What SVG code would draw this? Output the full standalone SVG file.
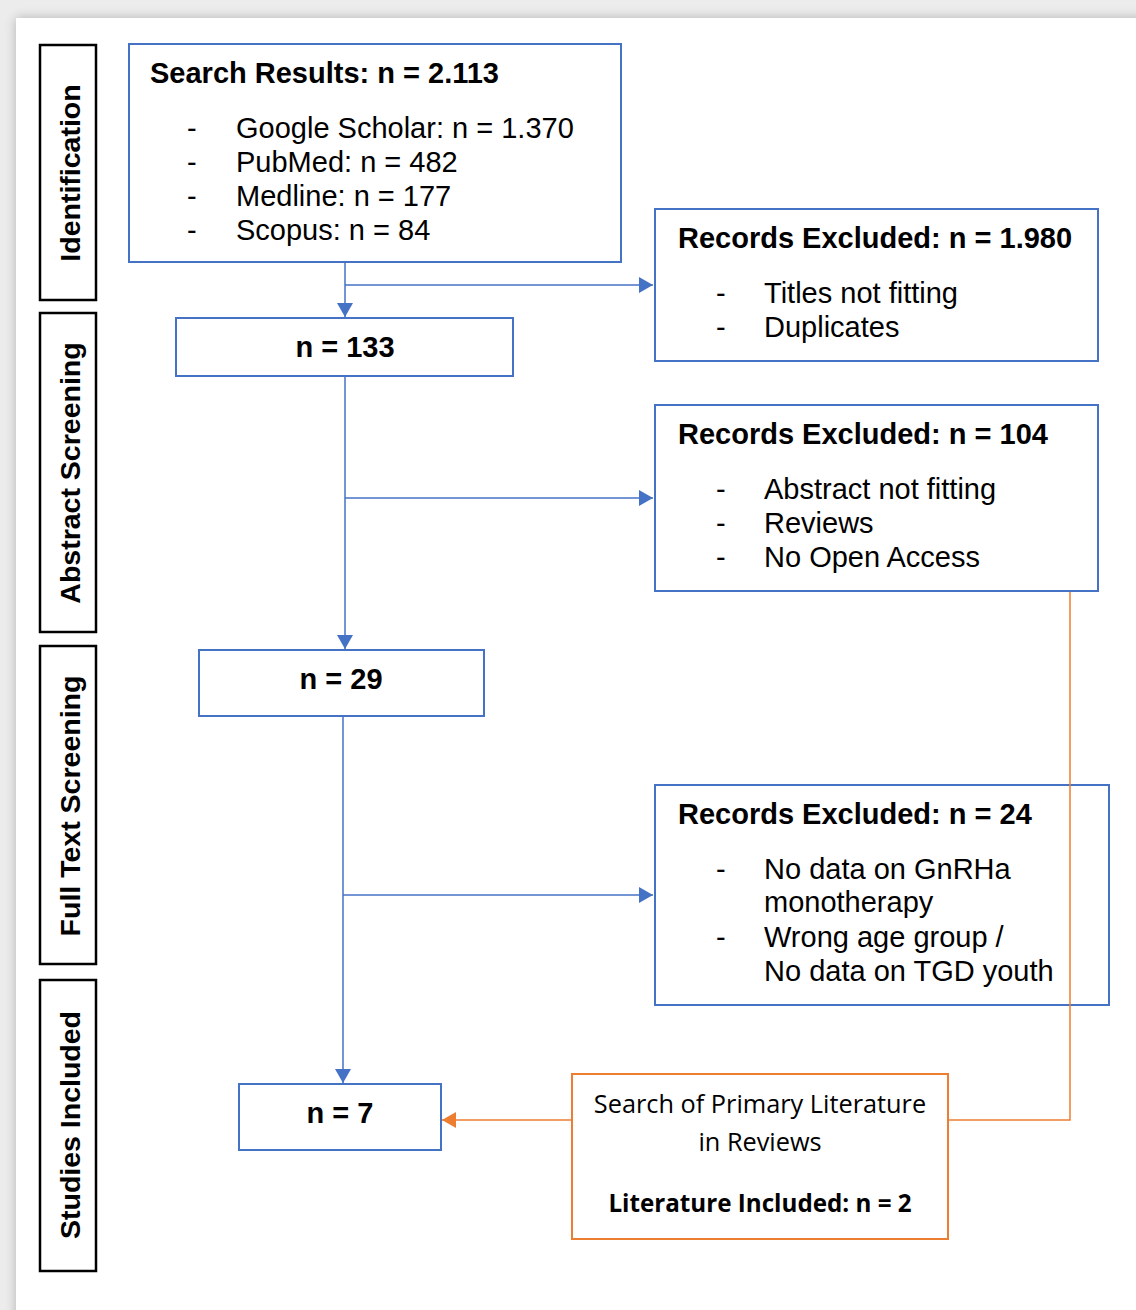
<svg xmlns="http://www.w3.org/2000/svg" width="1136" height="1310" viewBox="0 0 1136 1310">
<defs>
<filter id="sh" x="-5%" y="-5%" width="110%" height="110%">
<feGaussianBlur in="SourceAlpha" stdDeviation="6"/>
<feComponentTransfer><feFuncA type="linear" slope="0.25"/></feComponentTransfer>
<feMerge><feMergeNode/><feMergeNode in="SourceGraphic"/></feMerge>
</filter>
<marker id="ab" viewBox="0 0 14 16" refX="14" refY="8" markerWidth="14" markerHeight="16" markerUnits="userSpaceOnUse" orient="auto">
<path d="M0,0 L14,8 L0,16 z" fill="#4472c4"/>
</marker>
<marker id="ao" viewBox="0 0 14 16" refX="14" refY="8" markerWidth="14" markerHeight="16" markerUnits="userSpaceOnUse" orient="auto">
<path d="M0,0 L14,8 L0,16 z" fill="#ed7d31"/>
</marker>
</defs>
<style>
.stage{fill:#fff;stroke:#000;stroke-width:2.5}
.stxt{font-family:"Liberation Sans",Arial,sans-serif;font-weight:bold;font-size:28.5px;fill:#000;text-anchor:middle}
.box{fill:#fff;stroke:#4472c4;stroke-width:2}
.obox{fill:#fff;stroke:#ed7d31;stroke-width:2}
.t{font-family:"Liberation Sans",Arial,sans-serif;font-size:29px;fill:#000}
.b{font-weight:bold}
.c{font-family:"Open Sans","Liberation Sans",sans-serif;font-size:25.3px;fill:#000;text-anchor:middle}
.cb{font-size:24.2px;font-weight:bold}
.con{fill:none;stroke:#4472c4;stroke-width:1.5}
.ocon{fill:none;stroke:#ed7d31;stroke-width:1.5}
</style>
<rect x="0" y="0" width="1136" height="1310" fill="#ececec"/>
<rect x="16" y="18" width="1140" height="1310" fill="#fff" filter="url(#sh)"/>

<g id="stage-identification">
<rect class="stage" x="40" y="45" width="56" height="255"/>
<text class="stxt" transform="translate(80,173) rotate(-90)">Identification</text>
</g>
<g id="stage-abstract">
<rect class="stage" x="40" y="313" width="56" height="319"/>
<text class="stxt" transform="translate(80,473) rotate(-90)">Abstract Screening</text>
</g>
<g id="stage-fulltext">
<rect class="stage" x="40" y="646" width="56" height="318"/>
<text class="stxt" transform="translate(80,806) rotate(-90)">Full Text Screening</text>
</g>
<g id="stage-included">
<rect class="stage" x="40" y="980" width="56" height="291"/>
<text class="stxt" transform="translate(80,1125) rotate(-90)">Studies Included</text>
</g>

<g id="search-results">
<rect class="box" x="129" y="44" width="492" height="218"/>
<text class="t b" x="150" y="83">Search Results: n = 2.113</text>
<text class="t" x="187" y="138">-</text><text class="t" x="236" y="138">Google Scholar: n = 1.370</text>
<text class="t" x="187" y="172">-</text><text class="t" x="236" y="172">PubMed: n = 482</text>
<text class="t" x="187" y="206">-</text><text class="t" x="236" y="206">Medline: n = 177</text>
<text class="t" x="187" y="240">-</text><text class="t" x="236" y="240">Scopus: n = 84</text>
</g>

<g id="n133">
<rect class="box" x="176" y="318" width="337" height="58"/>
<text class="t b" x="345" y="357" text-anchor="middle">n = 133</text>
</g>

<g id="excluded-1980">
<rect class="box" x="655" y="209" width="443" height="152"/>
<text class="t b" x="678" y="248">Records Excluded: n = 1.980</text>
<text class="t" x="716" y="303">-</text><text class="t" x="764" y="303">Titles not fitting</text>
<text class="t" x="716" y="337">-</text><text class="t" x="764" y="337">Duplicates</text>
</g>

<g id="excluded-104">
<rect class="box" x="655" y="405" width="443" height="186"/>
<text class="t b" x="678" y="444">Records Excluded: n = 104</text>
<text class="t" x="716" y="499">-</text><text class="t" x="764" y="499">Abstract not fitting</text>
<text class="t" x="716" y="533">-</text><text class="t" x="764" y="533">Reviews</text>
<text class="t" x="716" y="567">-</text><text class="t" x="764" y="567">No Open Access</text>
</g>

<g id="n29">
<rect class="box" x="199" y="650" width="285" height="66"/>
<text class="t b" x="341" y="689" text-anchor="middle">n = 29</text>
</g>

<g id="excluded-24">
<rect class="box" x="655" y="785" width="454" height="220"/>
<text class="t b" x="678" y="824">Records Excluded: n = 24</text>
<text class="t" x="716" y="879">-</text><text class="t" x="764" y="879">No data on GnRHa</text>
<text class="t" x="764" y="912">monotherapy</text>
<text class="t" x="716" y="947">-</text><text class="t" x="764" y="947">Wrong age group /</text>
<text class="t" x="764" y="981">No data on TGD youth</text>
</g>

<g id="n7">
<rect class="box" x="239" y="1084" width="202" height="66"/>
<text class="t b" x="340" y="1123" text-anchor="middle">n = 7</text>
</g>

<g id="primary-literature">
<rect class="obox" x="572" y="1074" width="376" height="165"/>
<text class="c" x="760" y="1113">Search of Primary Literature</text>
<text class="c" x="760" y="1151">in Reviews</text>
<text class="c cb" x="760" y="1212">Literature Included: n = 2</text>
</g>

<g id="connectors">
<path class="con" d="M345,262 V317" marker-end="url(#ab)"/>
<path class="con" d="M345,285 H653" marker-end="url(#ab)"/>
<path class="con" d="M345,377 V649" marker-end="url(#ab)"/>
<path class="con" d="M345,498 H653" marker-end="url(#ab)"/>
<path class="con" d="M343,717 V1083" marker-end="url(#ab)"/>
<path class="con" d="M343,895 H653" marker-end="url(#ab)"/>
<path class="ocon" d="M1070,592 V1120 H949"/>
<path class="ocon" d="M571,1120 H442" marker-end="url(#ao)"/>
</g>
</svg>
